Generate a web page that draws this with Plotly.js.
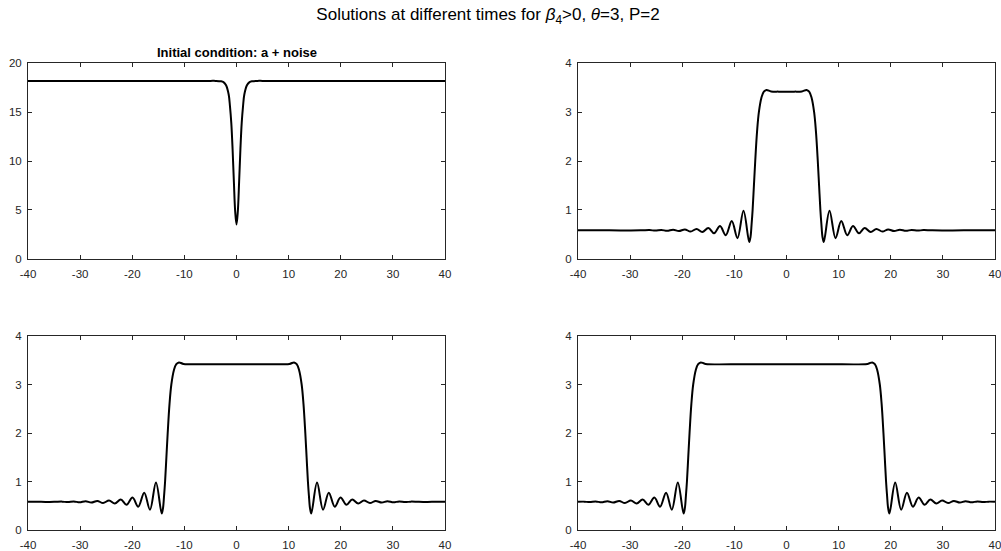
<!DOCTYPE html>
<html>
<head>
<meta charset="utf-8">
<script src="https://cdn.plot.ly/plotly-3.0.1.min.js"></script>
<style>html,body{margin:0;padding:0;background:#fff;}#chart{width:1001px;height:551px;}</style>
</head>
<body>
<div id="chart"></div>
<script>
// Panel 1: initial condition
const icX = [-40, -30, -20, -10, -5, -4, -3, -2.5, -2, -1.5, -1.25, -1, -0.75, -0.5, -0.25, 0, 0.25, 0.5, 0.75, 1, 1.25, 1.5, 2, 2.5, 3, 4, 5, 10, 20, 30, 40];
const icY = [18.2, 18.2, 18.2, 18.2, 18.2, 18.2, 18.16, 18.07, 17.75, 16.8, 15.6, 13.9, 11.2, 7.85, 4.8, 3.5, 4.8, 7.85, 11.2, 13.9, 15.6, 16.8, 17.75, 18.07, 18.16, 18.2, 18.2, 18.2, 18.2, 18.2, 18.2];

// Panel 2: top right
const t1X = [-40, -34, -28, -26.25, -25.15, -24.0, -22.9, -21.75, -20.65, -19.5, -18.4, -17.25, -16.15, -15.0, -13.9, -12.75, -11.65, -10.5, -9.4, -8.25, -7.15, -6.9, -6.7, -6.5, -6.25, -6.0, -5.65, -5.3, -4.8, -4.35, -3.85, -2.95, -1.5, 0, 1.5, 2.95, 3.85, 4.35, 4.8, 5.3, 5.65, 6.0, 6.25, 6.5, 6.7, 6.9, 7.15, 8.25, 9.4, 10.5, 11.65, 12.75, 13.9, 15.0, 16.15, 17.25, 18.4, 19.5, 20.65, 21.75, 22.9, 24.0, 25.15, 26.25, 28, 34, 40];
const t1Y = [0.58, 0.58, 0.58, 0.585, 0.575, 0.59, 0.57, 0.595, 0.565, 0.60, 0.555, 0.61, 0.545, 0.63, 0.52, 0.67, 0.48, 0.77, 0.42, 0.98, 0.34, 0.45, 0.7, 1.0, 1.5, 2.0, 2.6, 3.0, 3.3, 3.42, 3.455, 3.425, 3.42, 3.42, 3.42, 3.425, 3.455, 3.42, 3.3, 3.0, 2.6, 2.0, 1.5, 1.0, 0.7, 0.45, 0.34, 0.98, 0.42, 0.77, 0.48, 0.67, 0.52, 0.63, 0.545, 0.61, 0.555, 0.60, 0.565, 0.595, 0.57, 0.59, 0.575, 0.585, 0.58, 0.58, 0.58];

// Panel 3: bottom left
const t2X = [-40, -37.5, -35, -33.45, -32.35, -31.2, -30.1, -28.95, -27.85, -26.7, -25.6, -24.45, -23.35, -22.2, -21.1, -19.95, -18.85, -17.7, -16.6, -15.45, -14.35, -14.1, -13.9, -13.7, -13.45, -13.2, -12.85, -12.5, -12.0, -11.55, -11.05, -10.15, -5, 0, 5, 10.15, 11.05, 11.55, 12.0, 12.5, 12.85, 13.2, 13.45, 13.7, 13.9, 14.1, 14.35, 15.45, 16.6, 17.7, 18.85, 19.95, 21.1, 22.2, 23.35, 24.45, 25.6, 26.7, 27.85, 28.95, 30.1, 31.2, 32.35, 33.45, 35, 37.5, 40];
const t2Y = [0.58, 0.58, 0.58, 0.585, 0.575, 0.59, 0.57, 0.595, 0.565, 0.60, 0.555, 0.61, 0.545, 0.63, 0.52, 0.67, 0.48, 0.77, 0.42, 0.98, 0.34, 0.45, 0.7, 1.0, 1.5, 2.0, 2.6, 3.0, 3.3, 3.42, 3.455, 3.425, 3.42, 3.42, 3.42, 3.425, 3.455, 3.42, 3.3, 3.0, 2.6, 2.0, 1.5, 1.0, 0.7, 0.45, 0.34, 0.98, 0.42, 0.77, 0.48, 0.67, 0.52, 0.63, 0.545, 0.61, 0.555, 0.60, 0.565, 0.595, 0.57, 0.59, 0.575, 0.585, 0.58, 0.58, 0.58];

// Panel 4: bottom right
const t3X = [-40, -38.85, -37.75, -36.6, -35.5, -34.35, -33.25, -32.1, -31.0, -29.85, -28.75, -27.6, -26.5, -25.35, -24.25, -23.1, -22.0, -20.85, -19.75, -19.5, -19.3, -19.1, -18.85, -18.6, -18.25, -17.9, -17.4, -16.95, -16.45, -15.55, -8, 0, 8, 15.55, 16.45, 16.95, 17.4, 17.9, 18.25, 18.6, 18.85, 19.1, 19.3, 19.5, 19.75, 20.85, 22.0, 23.1, 24.25, 25.35, 26.5, 27.6, 28.75, 29.85, 31.0, 32.1, 33.25, 34.35, 35.5, 36.6, 37.75, 38.85, 40];
const t3Y = [0.58, 0.585, 0.575, 0.59, 0.57, 0.595, 0.565, 0.60, 0.555, 0.61, 0.545, 0.63, 0.52, 0.67, 0.48, 0.77, 0.42, 0.98, 0.34, 0.45, 0.7, 1.0, 1.5, 2.0, 2.6, 3.0, 3.3, 3.42, 3.455, 3.425, 3.42, 3.42, 3.42, 3.425, 3.455, 3.42, 3.3, 3.0, 2.6, 2.0, 1.5, 1.0, 0.7, 0.45, 0.34, 0.98, 0.42, 0.77, 0.48, 0.67, 0.52, 0.63, 0.545, 0.61, 0.555, 0.60, 0.565, 0.595, 0.57, 0.59, 0.575, 0.585, 0.58];

const xTicks = [-40, -30, -20, -10, 0, 10, 20, 30, 40];
const yTicksIC = [0, 5, 10, 15, 20];
const yTicks = [0, 1, 2, 3, 4];

const W = 1001, H = 551;
const FONT = 'Liberation Sans, Arial, sans-serif';
const lineStyle = {color: '#000000', width: 2, shape: 'spline', smoothing: 1};
function tr(x, y, xa, ya) {
  return {x: x, y: y, xaxis: xa, yaxis: ya, type: 'scatter', mode: 'lines', line: lineStyle, hoverinfo: 'skip'};
}
const axColor = '#262626';
function ax(domain, range, ticks, standoff) {
  return {
    domain: domain, range: range, tickvals: ticks, ticktext: ticks.map(String),
    showgrid: false, zeroline: false, showline: true, mirror: 'ticks',
    linecolor: axColor, linewidth: 1, ticks: 'inside', ticklen: 4, tickwidth: 1, tickcolor: axColor,
    ticklabelstandoff: standoff, ticklabeloverflow: 'allow',
    tickfont: {family: FONT, size: 11.5, color: axColor},
    fixedrange: true
  };
}
const xL = [28 / W, 445 / W], xR = [578 / W, 995 / W];
const yT = [1 - 258.7 / H, 1 - 63.3 / H], yB = [1 - 530 / H, 1 - 336 / H];

const data = [
  tr(icX, icY, 'x', 'y'),
  tr(t1X, t1Y, 'x2', 'y2'),
  tr(t2X, t2Y, 'x3', 'y3'),
  tr(t3X, t3Y, 'x4', 'y4')
];
const layout = {
  width: W, height: H,
  margin: {l: 0, r: 0, t: 0, b: 0},
  paper_bgcolor: '#ffffff', plot_bgcolor: '#ffffff',
  showlegend: false,
  title: {
    text: 'Solutions at different times for <i>β</i><sub>4</sub>>0, <i>θ</i>=3, P=2',
    font: {family: FONT, size: 17, color: '#000000'},
    x: 488 / W, xref: 'paper', xanchor: 'center', y: 1 - 14 / H, yref: 'container', yanchor: 'middle'
  },
  xaxis: Object.assign(ax(xL, [-40, 40], xTicks, 4), {anchor: 'y'}),
  yaxis: Object.assign(ax(yT, [0, 20], yTicksIC, 3), {anchor: 'x'}),
  xaxis2: Object.assign(ax(xR, [-40, 40], xTicks, 4), {anchor: 'y2'}),
  yaxis2: Object.assign(ax(yT, [0, 4], yTicks, 3), {anchor: 'x2'}),
  xaxis3: Object.assign(ax(xL, [-40, 40], xTicks, 4), {anchor: 'y3'}),
  yaxis3: Object.assign(ax(yB, [0, 4], yTicks, 3), {anchor: 'x3'}),
  xaxis4: Object.assign(ax(xR, [-40, 40], xTicks, 4), {anchor: 'y4'}),
  yaxis4: Object.assign(ax(yB, [0, 4], yTicks, 3), {anchor: 'x4'}),
  annotations: [{
    text: '<b>Initial condition: a + noise</b>',
    xref: 'paper', yref: 'paper', x: 237 / W, y: 1 - 53 / H,
    xanchor: 'center', yanchor: 'middle', showarrow: false,
    font: {family: FONT, size: 13, color: '#000000'}
  }]
};
Plotly.newPlot('chart', data, layout, {displayModeBar: false, staticPlot: true});
</script>
</body>
</html>
